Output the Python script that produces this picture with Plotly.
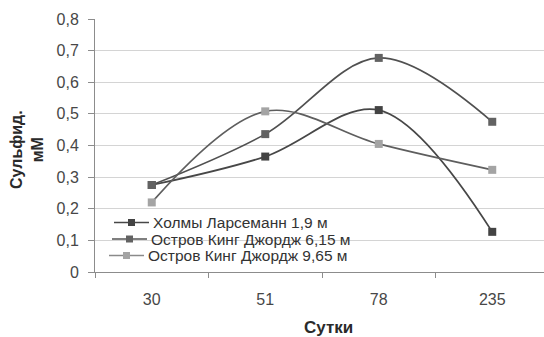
import plotly.graph_objects as go

days = ["30", "51", "78", "235"]
series_names = ["Холмы Ларсеманн 1,9 м", "Остров Кинг Джордж 6,15 м", "Остров Кинг Джордж 9,65 м"]
larsemann = [0.275, 0.365, 0.512, 0.127]
king_615 = [0.275, 0.436, 0.677, 0.475]
king_965 = [0.22, 0.508, 0.405, 0.323]
y_ticks = [0, 0.1, 0.2, 0.3, 0.4, 0.5, 0.6, 0.7, 0.8]
y_tick_text = ["0", "0,1", "0,2", "0,3", "0,4", "0,5", "0,6", "0,7", "0,8"]

values = [larsemann, king_615, king_965]
line_colors = ["#474747", "#505050", "#5e5e5e"]
marker_colors = ["#434343", "#626262", "#a4a4a4"]
legend_line_colors = ["#474747", "#555555", "#8a8a8a"]

# layout geometry (pixels)
W, H = 544, 337
ML, MT, MB = 95, 19, 65
PW, PH = W - ML, H - MT - MB


def px(x):
    return (x - ML) / PW


def py(y):
    return (H - MB - y) / PH


fig = go.Figure()
for name, vals, lc, mc in zip(series_names, values, line_colors, marker_colors):
    fig.add_trace(go.Scatter(
        x=days, y=vals, name=name, mode="lines+markers", showlegend=False,
        line=dict(color=lc, width=1.7, shape="spline", smoothing=1.0),
        marker=dict(symbol="square", size=8, color=mc),
    ))

font_main = "Liberation Sans, Arial, sans-serif"

shapes = [dict(type="rect", xref="paper", yref="paper", layer="between",
               x0=px(110), x1=px(367), y0=py(268), y1=py(212),
               fillcolor="white", line=dict(width=0))]
annotations = []
leg_y = [222.5, 239, 255.5]
leg_text_x = [152, 150, 147]
for i, name in enumerate(series_names):
    yc = leg_y[i]
    x1 = leg_text_x[i] - 3
    x0 = x1 - 35
    xm = (x0 + x1) / 2
    shapes.append(dict(type="line", xref="paper", yref="paper", layer="above",
                       x0=px(x0), x1=px(x1), y0=py(yc), y1=py(yc),
                       line=dict(color=legend_line_colors[i], width=1.7)))
    shapes.append(dict(type="rect", xref="paper", yref="paper", layer="above",
                       x0=px(xm - 3.5), x1=px(xm + 3.5), y0=py(yc + 3.5), y1=py(yc - 3.5),
                       fillcolor=marker_colors[i], line=dict(width=0)))
    annotations.append(dict(text=name, xref="paper", yref="paper",
                            x=px(leg_text_x[i]), y=py(yc), xanchor="left", yanchor="middle",
                            showarrow=False, borderpad=0,
                            font=dict(family=font_main, size=15.5, color="#333333")))

annotations.append(dict(
    text="<b>Сульфид.<br>мМ</b>", textangle=-90,
    xref="paper", yref="paper", x=px(27), y=py(150),
    xanchor="center", yanchor="middle", showarrow=False,
    font=dict(family=font_main, size=16, color="#2a2a2a"),
))
annotations.append(dict(
    text="<b>Сутки</b>",
    xref="paper", yref="paper", x=px(328), y=py(327),
    xanchor="center", yanchor="middle", showarrow=False,
    font=dict(family=font_main, size=17, color="#2a2a2a"),
))

fig.update_layout(
    width=W, height=H,
    margin=dict(l=ML, r=0, t=MT, b=MB),
    paper_bgcolor="white", plot_bgcolor="white",
    font=dict(family=font_main, size=16, color="#404040"),
    showlegend=False,
    xaxis=dict(
        type="category", range=[-0.5, 3.456],
        showgrid=False, showline=True, linecolor="#8c8c8c", linewidth=1,
        ticks="outside", tickson="boundaries", ticklen=5, tickcolor="#8c8c8c",
        tickfont=dict(size=16, color="#474747"), ticklabelstandoff=13,
        fixedrange=True,
    ),
    yaxis=dict(
        range=[0, 0.8], tickvals=y_ticks, ticktext=y_tick_text,
        showgrid=True, gridcolor="#d4d4d4", gridwidth=1,
        showline=True, linecolor="#8c8c8c", linewidth=1,
        ticks="outside", ticklen=6, tickcolor="#8c8c8c",
        tickfont=dict(size=16, color="#474747"), ticklabelstandoff=6,
        zeroline=False,
        fixedrange=True,
    ),
    shapes=shapes,
    annotations=annotations,
)

fig.write_html("out.html")
